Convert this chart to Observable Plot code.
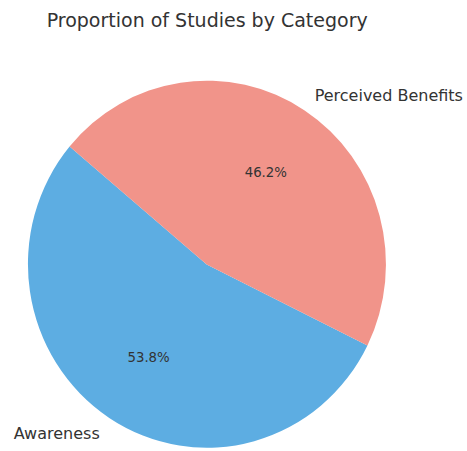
<!DOCTYPE html>
<html>
<head>
<meta charset="utf-8">
<script src="https://cdn.jsdelivr.net/npm/d3@7"></script>
<script src="https://cdn.jsdelivr.net/npm/@observablehq/plot@0.6"></script>
<style>
  html, body { margin: 0; padding: 0; background: #fff; }
  svg { font-family: "DejaVu Sans", sans-serif; }
</style>
</head>
<body>
<div id="chart"></div>
<script>
const categories = ["Awareness", "Perceived Benefits"];
const counts = [7, 6];
const colors = ["#5DADE2", "#F1948A"];
const title = "Proportion of Studies by Category";

const W = 467, H = 451;
const RX = 179, RY = 183.5, CX = 206.7, CY = 264.5;   // layout of the pie in pixels
const startDeg = 140;                 // matplotlib-style start angle (ccw from 3 o'clock)

const total = d3.sum(counts);
// build slices (counter-clockwise from startDeg)
let acc = startDeg;
const slices = categories.map((c, i) => {
  const span = counts[i] / total * 360;
  const a0 = acc, a1 = acc + span;
  acc = a1;
  const mid = (a0 + a1) / 2 * Math.PI / 180;
  return {
    category: c, value: counts[i], color: colors[i],
    a0, a1,
    pct: (counts[i] / total * 100).toFixed(1) + "%",
    lx: 1.1 * Math.cos(mid), ly: 1.1 * Math.sin(mid),
    px: 0.6 * Math.cos(mid), py: 0.6 * Math.sin(mid)
  };
});

// custom wedge mark using Plot's x/y scales
function wedges(index, scales) {
  const cx = scales.x(0), cy = scales.y(0);
  const rx = scales.x(1) - scales.x(0);
  const ry = scales.y(0) - scales.y(1);
  const arc = d3.arc().innerRadius(0).outerRadius(1);
  const g = d3.create("svg:g");
  for (const s of slices) {
    // convert math angles (ccw from east) to d3 angles (cw from north)
    const d0 = (90 - s.a0) * Math.PI / 180;
    const d1 = (90 - s.a1) * Math.PI / 180;
    g.append("path")
      .attr("transform", `translate(${cx},${cy}) scale(${rx},${ry})`)
      .attr("d", arc({startAngle: d1, endAngle: d0}))
      .attr("fill", s.color);
  }
  return g.node();
}

const chart = Plot.plot({
  width: W,
  height: H,
  margin: 0,
  x: {domain: [-CX / RX, (W - CX) / RX], axis: null},
  y: {domain: [-(H - CY) / RY, CY / RY], axis: null},
  style: {fontFamily: "DejaVu Sans, sans-serif", background: "#fff"},
  marks: [
    wedges,
    Plot.text(slices.filter(d => d.lx >= 0), {
      x: "lx", y: "ly", text: "category",
      textAnchor: "start",
      fontSize: 16, fill: "#333"
    }),
    Plot.text(slices.filter(d => d.lx < 0), {
      x: "lx", y: "ly", text: "category",
      textAnchor: "end",
      fontSize: 16, fill: "#333"
    }),
    Plot.text(slices, {
      x: "px", y: "py", text: "pct",
      fontSize: 13.3, fill: "#333"
    }),
    Plot.text([title], {
      x: 0, frameAnchor: "top", dy: 20, lineAnchor: "middle",
      fontSize: 19, fill: "#333"
    })
  ]
});
document.getElementById("chart").appendChild(chart);
</script>
</body>
</html>
